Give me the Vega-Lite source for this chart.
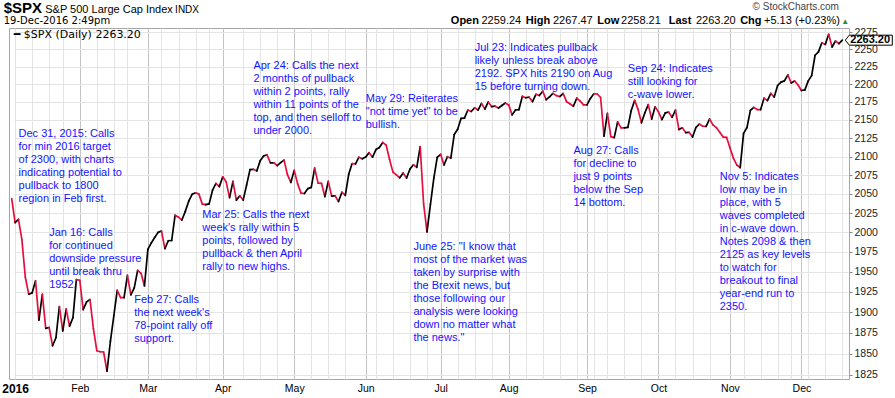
{
  "$schema": "https://vega.github.io/schema/vega-lite/v6.json",
  "width": 840,
  "height": 351,
  "autosize": {"type": "none"},
  "padding": {"left": 9, "top": 28, "right": 46, "bottom": 19},
  "background": "#ffffff",
  "config": {"view": {"stroke": "#a6a6a6"}, "text": {"font": "Liberation Sans"}},
  "datasets": {
    "spx": [
      {"d":"2015-12-31","v":2043.94},{"d":"2016-01-04","v":2012.66},{"d":"2016-01-05","v":2016.71},{"d":"2016-01-06","v":1990.26},{"d":"2016-01-07","v":1943.09},{"d":"2016-01-08","v":1922.03},{"d":"2016-01-11","v":1923.67},{"d":"2016-01-12","v":1938.68},{"d":"2016-01-13","v":1890.28},{"d":"2016-01-14","v":1921.84},{"d":"2016-01-15","v":1880.33},{"d":"2016-01-19","v":1881.33},{"d":"2016-01-20","v":1859.33},{"d":"2016-01-21","v":1868.99},{"d":"2016-01-22","v":1906.90},{"d":"2016-01-25","v":1877.08},{"d":"2016-01-26","v":1903.63},{"d":"2016-01-27","v":1882.95},{"d":"2016-01-28","v":1893.36},{"d":"2016-01-29","v":1940.24},
      {"d":"2016-02-01","v":1939.38},{"d":"2016-02-02","v":1903.03},{"d":"2016-02-03","v":1912.53},{"d":"2016-02-04","v":1915.45},{"d":"2016-02-05","v":1880.05},{"d":"2016-02-08","v":1853.44},{"d":"2016-02-09","v":1852.21},{"d":"2016-02-10","v":1851.86},{"d":"2016-02-11","v":1829.08},{"d":"2016-02-12","v":1864.78},{"d":"2016-02-16","v":1895.58},{"d":"2016-02-17","v":1926.82},{"d":"2016-02-18","v":1917.83},{"d":"2016-02-19","v":1917.78},{"d":"2016-02-22","v":1945.50},{"d":"2016-02-23","v":1921.27},{"d":"2016-02-24","v":1929.80},{"d":"2016-02-25","v":1951.70},{"d":"2016-02-26","v":1948.05},{"d":"2016-02-29","v":1932.23},
      {"d":"2016-03-01","v":1978.35},{"d":"2016-03-02","v":1986.45},{"d":"2016-03-03","v":1993.40},{"d":"2016-03-04","v":1999.99},{"d":"2016-03-07","v":2001.76},{"d":"2016-03-08","v":1979.26},{"d":"2016-03-09","v":1989.26},{"d":"2016-03-10","v":1989.57},{"d":"2016-03-11","v":2022.19},{"d":"2016-03-14","v":2019.64},{"d":"2016-03-15","v":2015.93},{"d":"2016-03-16","v":2027.22},{"d":"2016-03-17","v":2040.59},{"d":"2016-03-18","v":2049.58},{"d":"2016-03-21","v":2051.60},{"d":"2016-03-22","v":2049.80},{"d":"2016-03-23","v":2036.71},{"d":"2016-03-24","v":2035.94},{"d":"2016-03-28","v":2037.05},{"d":"2016-03-29","v":2055.01},{"d":"2016-03-30","v":2063.95},{"d":"2016-03-31","v":2059.74},
      {"d":"2016-04-01","v":2072.78},{"d":"2016-04-04","v":2066.13},{"d":"2016-04-05","v":2045.17},{"d":"2016-04-06","v":2066.66},{"d":"2016-04-07","v":2041.91},{"d":"2016-04-08","v":2047.60},{"d":"2016-04-11","v":2041.99},{"d":"2016-04-12","v":2061.72},{"d":"2016-04-13","v":2082.42},{"d":"2016-04-14","v":2082.78},{"d":"2016-04-15","v":2080.73},{"d":"2016-04-18","v":2094.34},{"d":"2016-04-19","v":2100.80},{"d":"2016-04-20","v":2102.40},{"d":"2016-04-21","v":2091.48},{"d":"2016-04-22","v":2091.58},{"d":"2016-04-25","v":2087.79},{"d":"2016-04-26","v":2091.70},{"d":"2016-04-27","v":2095.15},{"d":"2016-04-28","v":2075.81},{"d":"2016-04-29","v":2065.30},
      {"d":"2016-05-02","v":2081.43},{"d":"2016-05-03","v":2063.37},{"d":"2016-05-04","v":2051.12},{"d":"2016-05-05","v":2050.63},{"d":"2016-05-06","v":2057.14},{"d":"2016-05-09","v":2058.69},{"d":"2016-05-10","v":2084.39},{"d":"2016-05-11","v":2064.46},{"d":"2016-05-12","v":2064.11},{"d":"2016-05-13","v":2046.61},{"d":"2016-05-16","v":2066.66},{"d":"2016-05-17","v":2047.21},{"d":"2016-05-18","v":2047.63},{"d":"2016-05-19","v":2040.04},{"d":"2016-05-20","v":2052.32},{"d":"2016-05-23","v":2048.04},{"d":"2016-05-24","v":2076.06},{"d":"2016-05-25","v":2090.54},{"d":"2016-05-26","v":2090.10},{"d":"2016-05-27","v":2099.06},{"d":"2016-05-31","v":2096.95},
      {"d":"2016-06-01","v":2099.33},{"d":"2016-06-02","v":2105.26},{"d":"2016-06-03","v":2099.13},{"d":"2016-06-06","v":2109.41},{"d":"2016-06-07","v":2112.13},{"d":"2016-06-08","v":2119.12},{"d":"2016-06-09","v":2115.48},{"d":"2016-06-10","v":2096.07},{"d":"2016-06-13","v":2079.06},{"d":"2016-06-14","v":2075.32},{"d":"2016-06-15","v":2071.50},{"d":"2016-06-16","v":2077.99},{"d":"2016-06-17","v":2071.22},{"d":"2016-06-20","v":2083.25},{"d":"2016-06-21","v":2088.90},{"d":"2016-06-22","v":2085.45},{"d":"2016-06-23","v":2113.32},{"d":"2016-06-24","v":2037.41},{"d":"2016-06-27","v":2000.54},{"d":"2016-06-28","v":2036.09},{"d":"2016-06-29","v":2070.77},{"d":"2016-06-30","v":2098.86},
      {"d":"2016-07-01","v":2102.95},{"d":"2016-07-05","v":2088.55},{"d":"2016-07-06","v":2099.73},{"d":"2016-07-07","v":2097.90},{"d":"2016-07-08","v":2129.90},{"d":"2016-07-11","v":2137.16},{"d":"2016-07-12","v":2152.14},{"d":"2016-07-13","v":2152.43},{"d":"2016-07-14","v":2163.75},{"d":"2016-07-15","v":2161.74},{"d":"2016-07-18","v":2166.89},{"d":"2016-07-19","v":2163.78},{"d":"2016-07-20","v":2173.02},{"d":"2016-07-21","v":2165.17},{"d":"2016-07-22","v":2175.03},{"d":"2016-07-25","v":2168.48},{"d":"2016-07-26","v":2169.18},{"d":"2016-07-27","v":2166.58},{"d":"2016-07-28","v":2170.06},{"d":"2016-07-29","v":2173.60},
      {"d":"2016-08-01","v":2170.84},{"d":"2016-08-02","v":2157.03},{"d":"2016-08-03","v":2163.79},{"d":"2016-08-04","v":2164.25},{"d":"2016-08-05","v":2182.87},{"d":"2016-08-08","v":2180.89},{"d":"2016-08-09","v":2181.74},{"d":"2016-08-10","v":2175.49},{"d":"2016-08-11","v":2185.79},{"d":"2016-08-12","v":2184.05},{"d":"2016-08-15","v":2190.15},{"d":"2016-08-16","v":2178.15},{"d":"2016-08-17","v":2182.22},{"d":"2016-08-18","v":2187.02},{"d":"2016-08-19","v":2183.87},{"d":"2016-08-22","v":2182.64},{"d":"2016-08-23","v":2186.90},{"d":"2016-08-24","v":2175.44},{"d":"2016-08-25","v":2172.47},{"d":"2016-08-26","v":2169.04},{"d":"2016-08-29","v":2180.38},{"d":"2016-08-30","v":2176.12},{"d":"2016-08-31","v":2170.95},
      {"d":"2016-09-01","v":2170.86},{"d":"2016-09-02","v":2179.98},{"d":"2016-09-06","v":2186.48},{"d":"2016-09-07","v":2186.16},{"d":"2016-09-08","v":2181.30},{"d":"2016-09-09","v":2127.81},{"d":"2016-09-12","v":2159.04},{"d":"2016-09-13","v":2127.02},{"d":"2016-09-14","v":2125.77},{"d":"2016-09-15","v":2147.26},{"d":"2016-09-16","v":2139.16},{"d":"2016-09-19","v":2139.12},{"d":"2016-09-20","v":2139.76},{"d":"2016-09-21","v":2163.12},{"d":"2016-09-22","v":2177.18},{"d":"2016-09-23","v":2164.69},{"d":"2016-09-26","v":2146.10},{"d":"2016-09-27","v":2159.93},{"d":"2016-09-28","v":2171.37},{"d":"2016-09-29","v":2151.13},{"d":"2016-09-30","v":2168.27},
      {"d":"2016-10-03","v":2161.20},{"d":"2016-10-04","v":2150.49},{"d":"2016-10-05","v":2159.73},{"d":"2016-10-06","v":2160.77},{"d":"2016-10-07","v":2153.74},{"d":"2016-10-10","v":2163.66},{"d":"2016-10-11","v":2136.73},{"d":"2016-10-12","v":2139.18},{"d":"2016-10-13","v":2132.55},{"d":"2016-10-14","v":2132.98},{"d":"2016-10-17","v":2126.50},{"d":"2016-10-18","v":2139.60},{"d":"2016-10-19","v":2144.29},{"d":"2016-10-20","v":2141.34},{"d":"2016-10-21","v":2141.16},{"d":"2016-10-24","v":2151.33},{"d":"2016-10-25","v":2143.16},{"d":"2016-10-26","v":2139.43},{"d":"2016-10-27","v":2133.04},{"d":"2016-10-28","v":2126.41},{"d":"2016-10-31","v":2126.15},
      {"d":"2016-11-01","v":2111.72},{"d":"2016-11-02","v":2097.94},{"d":"2016-11-03","v":2088.66},{"d":"2016-11-04","v":2085.18},{"d":"2016-11-07","v":2131.52},{"d":"2016-11-08","v":2139.56},{"d":"2016-11-09","v":2163.26},{"d":"2016-11-10","v":2167.48},{"d":"2016-11-11","v":2164.45},{"d":"2016-11-14","v":2164.20},{"d":"2016-11-15","v":2180.39},{"d":"2016-11-16","v":2176.94},{"d":"2016-11-17","v":2187.12},{"d":"2016-11-18","v":2181.90},{"d":"2016-11-21","v":2198.18},{"d":"2016-11-22","v":2202.94},{"d":"2016-11-23","v":2204.72},{"d":"2016-11-25","v":2213.35},{"d":"2016-11-28","v":2201.72},{"d":"2016-11-29","v":2204.66},{"d":"2016-11-30","v":2198.81},
      {"d":"2016-12-01","v":2191.08},{"d":"2016-12-02","v":2191.95},{"d":"2016-12-05","v":2204.71},{"d":"2016-12-06","v":2212.23},{"d":"2016-12-07","v":2241.35},{"d":"2016-12-08","v":2246.19},{"d":"2016-12-09","v":2259.53},{"d":"2016-12-12","v":2256.96},{"d":"2016-12-13","v":2271.72},{"d":"2016-12-14","v":2253.28},{"d":"2016-12-15","v":2262.03},{"d":"2016-12-16","v":2258.07},{"d":"2016-12-19","v":2263.20}
    ],
    "notes": [
      {"d":"2016-01-05","v":2138.5,"t":"Dec 31, 2015:  Calls\nfor min 2016 target\nof 2300, with charts\nindicating potential to\npullback to 1800\nregion in Feb first."},
      {"d":"2016-01-19","v":2006.5,"t":"Jan 16:  Calls\nfor continued\ndownside pressure\nuntil break thru\n1952."},
      {"d":"2016-02-24","v":1921.9,"t":"Feb 27:  Calls\nthe next week's\n78-point rally off\nsupport."},
      {"d":"2016-03-23","v":2030.3,"t":"Mar 25:  Calls the next\nweek's rally within 5\npoints, followed by\npullback & then April\nrally to new highs."},
      {"d":"2016-04-14","v":2234.5,"t":"Apr 24:   Calls the next\n2 months of pullback\nwithin 2 points, rally\nwithin 11 points of the\ntop, and then selloff to\nunder 2000."},
      {"d":"2016-06-01","v":2187.2,"t":"May 29:  Reiterates\n\"not time yet\" to be\nbullish."},
      {"d":"2016-06-21","v":1988.9,"t":"June 25:  \"I know that\nmost of the market was\ntaken by surprise with\nthe Brexit news, but\nthose following our\nanalysis were looking\ndown no matter what\nthe news.\""},
      {"d":"2016-07-18","v":2260.1,"t":"Jul 23:  Indicates pullback\nlikely unless break above\n2192.  SPX hits 2190 on Aug\n15 before turning down."},
      {"d":"2016-08-26","v":2115.6,"t":"Aug 27:  Calls\nfor decline to\njust 9 points\nbelow the Sep\n14 bottom."},
      {"d":"2016-09-20","v":2229.8,"t":"Sep 24:  Indicates\nstill looking for\nc-wave lower."},
      {"d":"2016-10-27","v":2080.5,"t":"Nov 5:  Indicates\nlow may be in\nplace, with 5\nwaves completed\nin c-wave down.\nNotes 2098 & then\n2125 as key levels\nto watch for\nbreakout to final\nyear-end run to\n2350."}
    ]
  },
  "encoding": {
    "x": {
      "field": "d", "type": "ordinal",
      "scale": {"type": "point", "range": [1, 835]},
      "axis": {
        "title": null,
        "values": ["2016-01-04","2016-01-11","2016-01-19","2016-01-25","2016-02-01","2016-02-08","2016-02-16","2016-02-22","2016-03-01","2016-03-07","2016-03-14","2016-03-21","2016-03-28","2016-04-01","2016-04-11","2016-04-18","2016-04-25","2016-05-02","2016-05-09","2016-05-16","2016-05-23","2016-06-01","2016-06-06","2016-06-13","2016-06-20","2016-06-27","2016-07-01","2016-07-11","2016-07-18","2016-07-25","2016-08-01","2016-08-08","2016-08-15","2016-08-22","2016-08-29","2016-09-01","2016-09-06","2016-09-12","2016-09-19","2016-09-26","2016-10-03","2016-10-10","2016-10-17","2016-10-24","2016-11-01","2016-11-07","2016-11-14","2016-11-21","2016-11-28","2016-12-01","2016-12-05","2016-12-12","2016-12-19"],
        "labelExpr": "datum.value == '2016-01-04' ? '2016' : (indexof(['2016-02-01','2016-03-01','2016-04-01','2016-05-02','2016-06-01','2016-07-01','2016-08-01','2016-09-01','2016-10-03','2016-11-01','2016-12-01'], datum.value) >= 0 ? utcFormat(toDate(datum.value), '%b') : '')",
        "ticks": false,
        "domain": false,
        "grid": true,
        "gridColor": {"condition": {"test": "indexof(['2016-02-01','2016-03-01','2016-04-01','2016-05-02','2016-06-01','2016-07-01','2016-08-01','2016-09-01','2016-10-03','2016-11-01','2016-12-01'], datum.value) >= 0", "value": "#c4c4c4"}, "value": "#e4e4e4"},
        "labelFont": "Liberation Sans",
        "labelFontSize": {"condition": {"test": "datum.value == '2016-01-04'", "value": 12}, "value": 10.5},
        "labelFontWeight": {"condition": {"test": "datum.value == '2016-01-04'", "value": "bold"}, "value": "normal"},
        "labelColor": "#000000",
        "labelPadding": 4,
        "labelAngle": 0,
        "labelOverlap": false,
        "labelBound": false
      }
    },
    "y": {
      "field": "v", "type": "quantitative",
      "scale": {"type": "log", "domain": [1820, 2281], "nice": false, "zero": false},
      "axis": {
        "orient": "right",
        "title": null,
        "values": [1825,1850,1875,1900,1925,1950,1975,2000,2025,2050,2075,2100,2125,2150,2175,2200,2225,2250,2275],
        "format": "d",
        "grid": true,
        "gridColor": "#e4e4e4",
        "domain": false,
        "tickSize": 3,
        "tickColor": "#888888",
        "labelFont": "Liberation Sans",
        "labelFontSize": 10.5,
        "labelColor": "#222222",
        "labelPadding": 2
      }
    }
  },
  "layer": [
    {
      "data": {"name": "spx"},
      "transform": [
        {"window": [{"op": "lead", "field": "v", "as": "v2"}, {"op": "lead", "field": "d", "as": "d2"}], "sort": [{"field": "d", "order": "ascending"}]},
        {"filter": "datum.v2 != null"}
      ],
      "mark": {"type": "rule", "strokeWidth": 1.7, "strokeCap": "round"},
      "encoding": {
        "x2": {"field": "d2"},
        "y2": {"field": "v2"},
        "color": {"condition": {"test": "datum.v2 < datum.v", "value": "#e3103f"}, "value": "#000000"}
      }
    },
    {
      "data": {"name": "notes"},
      "mark": {"type": "text", "align": "left", "baseline": "top", "fontSize": 11, "lineHeight": 13, "lineBreak": "\n", "color": "#1414ff"},
      "encoding": {"text": {"field": "t"}}
    },
    {
      "data": {"values": [{"d": "2015-12-31", "v": 2302.4, "t": "$SPX"}]},
      "mark": {"type": "text", "align": "left", "baseline": "alphabetic", "fontSize": 15, "fontWeight": "bold", "dx": -8, "color": "#000000"},
      "encoding": {"text": {"field": "t"}}
    },
    {
      "data": {"values": [{"d": "2016-01-15", "v": 2302.4, "t": "S&P 500 Large Cap Index"}]},
      "mark": {"type": "text", "align": "left", "baseline": "alphabetic", "fontSize": 11, "dx": -0.5, "color": "#000000"},
      "encoding": {"text": {"field": "t"}}
    },
    {
      "data": {"values": [{"d": "2016-03-11", "v": 2302.4, "t": "INDX"}]},
      "mark": {"type": "text", "align": "left", "baseline": "alphabetic", "fontSize": 10, "color": "#000000"},
      "encoding": {"text": {"field": "t"}}
    },
    {
      "data": {"values": [{"d": "2015-12-31", "v": 2286.9, "t": "19-Dec-2016 2:49pm"}]},
      "mark": {"type": "text", "align": "left", "baseline": "alphabetic", "font": "DejaVu Sans", "fontSize": 10, "dx": -8, "color": "#000000"},
      "encoding": {"text": {"field": "t"}}
    },
    {
      "data": {"values": [
        {"d": "2016-07-07", "v": 2286.9, "t": "Open"},
        {"d": "2016-08-08", "v": 2286.9, "t": "High"},
        {"d": "2016-09-07", "v": 2286.9, "t": "Low"},
        {"d": "2016-10-06", "v": 2286.9, "t": "Last"},
        {"d": "2016-11-04", "v": 2286.9, "t": "Chg"}
      ]},
      "mark": {"type": "text", "align": "left", "baseline": "alphabetic", "fontSize": 11, "fontWeight": "bold", "color": "#000000"},
      "encoding": {"text": {"field": "t"}}
    },
    {
      "data": {"values": [
        {"d": "2016-07-20", "v": 2286.9, "t": "2259.24"},
        {"d": "2016-08-18", "v": 2286.9, "t": "2267.47"},
        {"d": "2016-09-16", "v": 2286.9, "t": "2258.21"},
        {"d": "2016-10-18", "v": 2286.9, "t": "2263.20"},
        {"d": "2016-11-15", "v": 2286.9, "t": "+5.13 (+0.23%)"}
      ]},
      "mark": {"type": "text", "align": "left", "baseline": "alphabetic", "fontSize": 11, "color": "#000000"},
      "encoding": {"text": {"field": "t"}}
    },
    {
      "data": {"values": [{"d": "2016-12-16", "v": 2308.3, "t": "© StockCharts.com"}]},
      "mark": {"type": "text", "align": "right", "baseline": "alphabetic", "fontSize": 10, "color": "#444444"},
      "encoding": {"text": {"field": "t"}}
    },
    {
      "data": {"values": [{"d": "2016-12-19", "v": 2286.9, "t": "▲"}]},
      "mark": {"type": "text", "align": "center", "baseline": "alphabetic", "fontSize": 8, "dx": 3, "color": "#2f8f2f"},
      "encoding": {"text": {"field": "t"}}
    },
    {
      "data": {"values": [{"d": "2015-12-31", "v": 2267.1, "t": "━ $SPX (Daily) 2263.20"}]},
      "mark": {"type": "text", "align": "left", "baseline": "alphabetic", "font": "DejaVu Sans", "fontSize": 11, "dx": 2, "color": "#000000"},
      "encoding": {"text": {"field": "t"}}
    },
    {
      "data": {"name": "spx"},
      "transform": [{"filter": "datum.d == '2016-12-19'"}],
      "mark": {"type": "point", "shape": "M 3 0 L 7 -5 L 50 -5 L 50 5 L 7 5 Z", "size": 4, "filled": true, "fill": "#ffffff", "stroke": "#000000", "strokeWidth": 1, "opacity": 1}
    },
    {
      "data": {"name": "spx"},
      "transform": [{"filter": "datum.d == '2016-12-19'"}],
      "mark": {"type": "text", "align": "left", "baseline": "middle", "fontSize": 11, "fontWeight": "bold", "dx": 8, "color": "#000000"},
      "encoding": {"text": {"field": "v", "type": "quantitative", "format": ".2f"}}
    }
  ]
}
